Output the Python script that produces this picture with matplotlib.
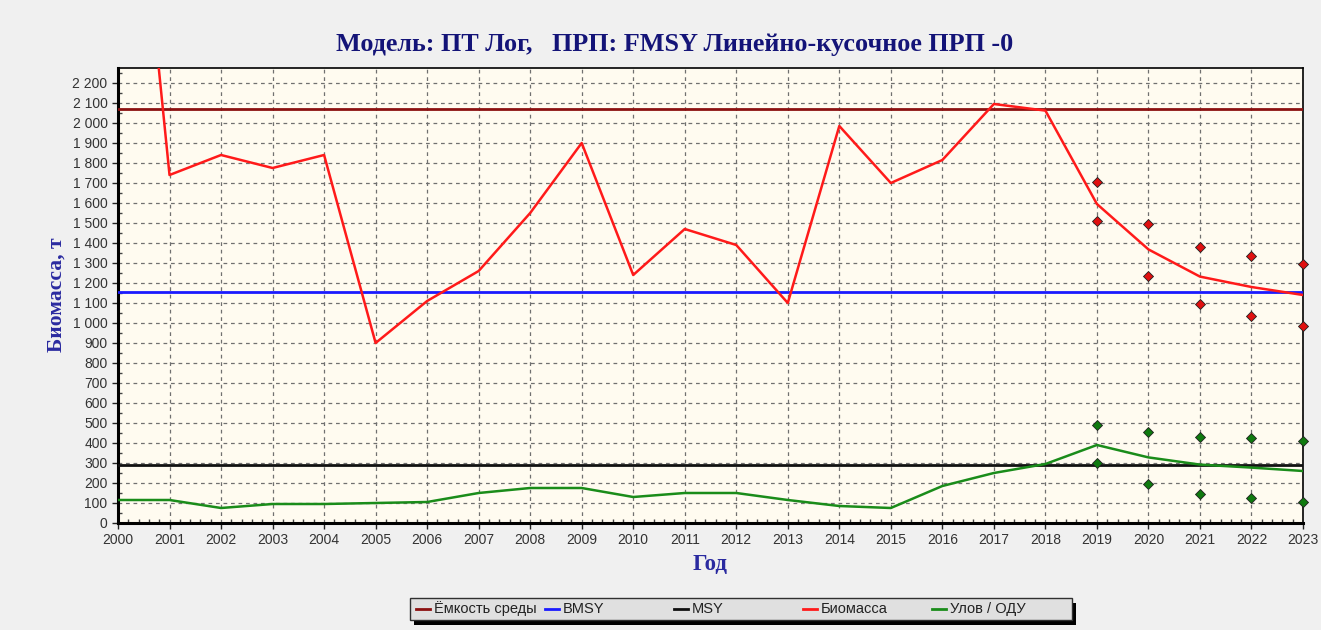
import matplotlib
matplotlib.use("Agg")
import matplotlib.pyplot as plt
from matplotlib.ticker import MultipleLocator, AutoMinorLocator, FuncFormatter
from matplotlib.lines import Line2D
from matplotlib.patches import Rectangle

# data
years = list(range(2000, 2024))
biomass = [4300, 1740, 1840, 1775, 1840, 900, 1110, 1260, 1550, 1900, 1240, 1470,
           1390, 1100, 1985, 1700, 1815, 2095, 2062, 1595, 1368, 1232, 1180, 1140]
catch = [115, 115, 75, 95, 95, 100, 105, 150, 175, 175, 130, 150,
         150, 115, 85, 75, 185, 250, 295, 390, 328, 292, 277, 260]
carrying_capacity = 2072
bmsy = 1155
msy = 288

# forecast bounds (2019-2023)
fc_years = [2019, 2020, 2021, 2022, 2023]
bio_hi = [1705, 1495, 1382, 1335, 1295]
bio_lo = [1508, 1237, 1097, 1035, 987]
catch_hi = [492, 457, 432, 427, 410]
catch_lo = [302, 196, 145, 125, 105]

labels = ["Ёмкость среды", "BMSY", "MSY", "Биомасса", "Улов / ОДУ"]
colors = ["#8b1010", "#1a1aff", "#111111", "#ff1a1a", "#1a8c1a"]

W, H = 1321, 630
fig = plt.figure(figsize=(W / 100, H / 100), dpi=100, facecolor="#f0f0f0")
ax = fig.add_axes([118 / W, 1 - 523 / H, (1303 - 118) / W, (523 - 68) / H])
ax.set_facecolor("#fffbf0")

ax.axhline(carrying_capacity, color=colors[0], lw=2, zorder=3)
ax.axhline(bmsy, color=colors[1], lw=2, zorder=3)
ax.axhline(msy, color=colors[2], lw=2, zorder=3)
ax.plot(years, biomass, color=colors[3], lw=1.8, zorder=4)
ax.plot(years, catch, color=colors[4], lw=1.8, zorder=4)

for hi, lo, fc in [(bio_hi, bio_lo, "#e01010"), (catch_hi, catch_lo, "#0f7a0f")]:
    ax.scatter(fc_years, hi, marker="D", s=26, color=fc, edgecolor="#202020", lw=0.6, zorder=5, clip_on=False)
    ax.scatter(fc_years, lo, marker="D", s=26, color=fc, edgecolor="#202020", lw=0.6, zorder=5, clip_on=False)

ax.set_xlim(2000, 2023)
ax.set_ylim(0, 2275)
ax.xaxis.set_major_locator(MultipleLocator(1))
ax.xaxis.set_minor_locator(AutoMinorLocator(5))
ax.yaxis.set_major_locator(MultipleLocator(100))
ax.yaxis.set_minor_locator(AutoMinorLocator(2))
ax.yaxis.set_major_formatter(FuncFormatter(lambda v, p: f"{int(v):,}".replace(",", " ")))
ax.tick_params(which="major", direction="out", length=4, width=1, colors="#222222",
               labelsize=10, labelcolor="#333333")
ax.tick_params(which="minor", direction="in", length=3, width=1, colors="#444444")
for lab in ax.get_xticklabels() + ax.get_yticklabels():
    lab.set_family("Liberation Sans")

ax.grid(True, which="major", color="#707070", lw=0.9, ls=(0, (3, 3)))
for s in ax.spines.values():
    s.set_linewidth(1.2)
ax.spines["left"].set_linewidth(2.2)
ax.spines["bottom"].set_linewidth(2.2)

navy = "#141478"
fig.text(675 / W, 1 - 45 / H, "Модель: ПТ Лог,   ПРП: FMSY Линейно-кусочное ПРП -0",
         ha="center", va="center", family="Liberation Serif", weight="bold", size=18.8, color=navy)
fig.text(57 / W, 1 - 295 / H, "Биомасса, т", rotation=90, ha="center", va="center",
         family="Liberation Serif", weight="bold", size=15.5, color="#2a2aa0")
fig.text(710 / W, 1 - 564 / H, "Год", ha="center", va="center",
         family="Liberation Serif", weight="bold", size=16.5, color="#2a2aa0")

# legend box in the style of the original
shadow = Rectangle((414 / W, 1 - 625 / H), 662 / W, 22 / H, transform=fig.transFigure,
                   facecolor="black", edgecolor="none")
box = Rectangle((410 / W, 1 - 620 / H), 662 / W, 22 / H, transform=fig.transFigure,
                facecolor="#e0e0e0", edgecolor="#303030", lw=1)
fig.patches.extend([shadow, box])
for i, (lab, col) in enumerate(zip(labels, colors)):
    x0 = 416 + 129 * i
    y0 = 1 - 609 / H
    fig.lines.append(Line2D([x0 / W, (x0 + 14) / W], [y0, y0], transform=fig.transFigure,
                            color=col, lw=2))
    fig.text((x0 + 18) / W, y0, lab, ha="left", va="center", family="Liberation Sans",
             size=10.5, color="#222222")

fig.savefig("out.png", dpi=100, facecolor=fig.get_facecolor())
